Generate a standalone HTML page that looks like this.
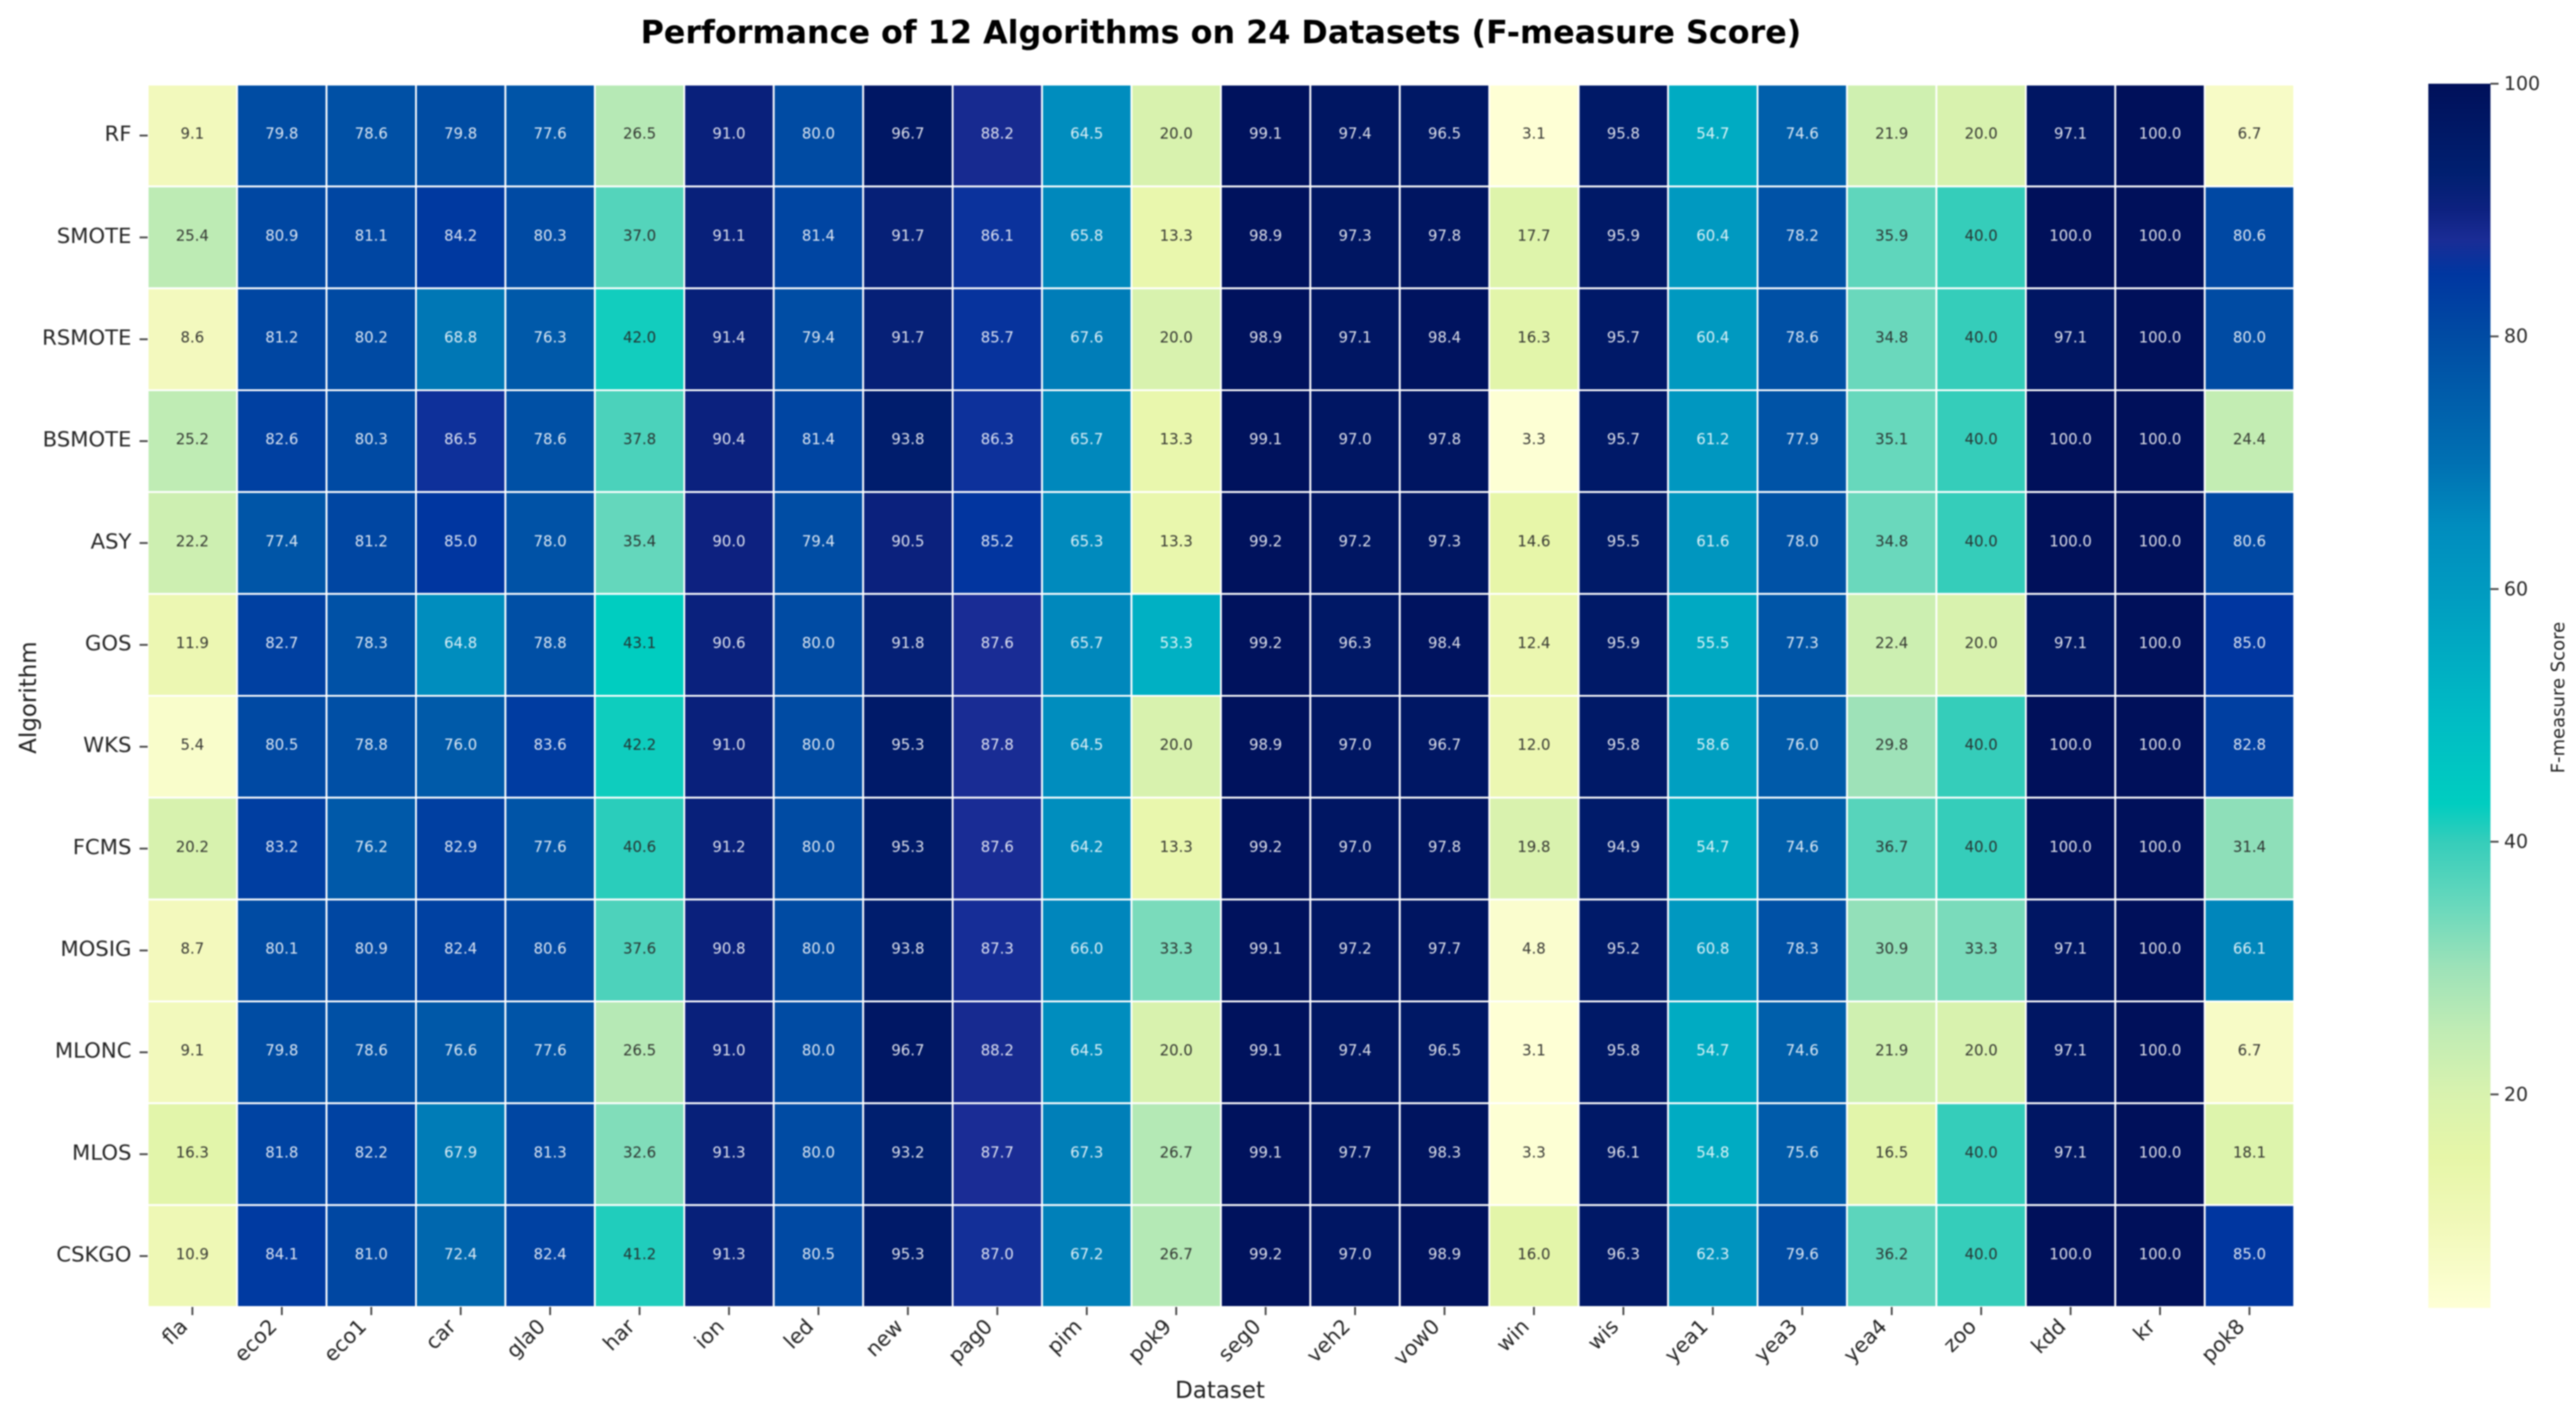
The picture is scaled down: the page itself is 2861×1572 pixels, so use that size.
<!DOCTYPE html>
<html>
<head>
<meta charset="utf-8">
<title>Performance of 12 Algorithms on 24 Datasets</title>
<style>
html,body{margin:0;padding:0;background:#fff;width:2861px;height:1572px;overflow:hidden}
svg{display:block;filter:blur(0.8px)}
text{font-family:"DejaVu Sans","Liberation Sans",sans-serif}
</style>
</head>
<body>
<svg id="chart" xmlns="http://www.w3.org/2000/svg" width="2861" height="1572" viewBox="0 0 2861 1572">
<rect width="2861" height="1572" fill="#fff"/>
<text x="1356" y="48" text-anchor="middle" font-size="35.3" font-weight="700" fill="#000">Performance of 12 Algorithms on 24 Datasets (F-measure Score)</text>
<text x="1355" y="1553" text-anchor="middle" font-size="25.5" fill="#222">Dataset</text>
<text transform="translate(40,775) rotate(-90)" text-anchor="middle" font-size="25.5" fill="#222">Algorithm</text>
<text transform="translate(2848,775) rotate(-90)" text-anchor="middle" font-size="20" fill="#222">F-measure Score</text>
<g id="cells"></g>
<g id="xticks"></g>
<g id="yticks"></g>
<g id="cbar"></g>
</svg>
<script>
const datasets = ["fla","eco2","eco1","car","gla0","har","ion","led","new","pag0","pim","pok9","seg0","veh2","vow0","win","wis","yea1","yea3","yea4","zoo","kdd","kr","pok8"];
const algorithms = ["RF","SMOTE","RSMOTE","BSMOTE","ASY","GOS","WKS","FCMS","MOSIG","MLONC","MLOS","CSKGO"];
const scoresRF = [9.1,79.8,78.6,79.8,77.6,26.5,91.0,80.0,96.7,88.2,64.5,20.0,99.1,97.4,96.5,3.1,95.8,54.7,74.6,21.9,20.0,97.1,100.0,6.7];
const scoresSMOTE = [25.4,80.9,81.1,84.2,80.3,37.0,91.1,81.4,91.7,86.1,65.8,13.3,98.9,97.3,97.8,17.7,95.9,60.4,78.2,35.9,40.0,100.0,100.0,80.6];
const scoresRSMOTE = [8.6,81.2,80.2,68.8,76.3,42.0,91.4,79.4,91.7,85.7,67.6,20.0,98.9,97.1,98.4,16.3,95.7,60.4,78.6,34.8,40.0,97.1,100.0,80.0];
const scoresBSMOTE = [25.2,82.6,80.3,86.5,78.6,37.8,90.4,81.4,93.8,86.3,65.7,13.3,99.1,97.0,97.8,3.3,95.7,61.2,77.9,35.1,40.0,100.0,100.0,24.4];
const scoresASY = [22.2,77.4,81.2,85.0,78.0,35.4,90.0,79.4,90.5,85.2,65.3,13.3,99.2,97.2,97.3,14.6,95.5,61.6,78.0,34.8,40.0,100.0,100.0,80.6];
const scoresGOS = [11.9,82.7,78.3,64.8,78.8,43.1,90.6,80.0,91.8,87.6,65.7,53.3,99.2,96.3,98.4,12.4,95.9,55.5,77.3,22.4,20.0,97.1,100.0,85.0];
const scoresWKS = [5.4,80.5,78.8,76.0,83.6,42.2,91.0,80.0,95.3,87.8,64.5,20.0,98.9,97.0,96.7,12.0,95.8,58.6,76.0,29.8,40.0,100.0,100.0,82.8];
const scoresFCMS = [20.2,83.2,76.2,82.9,77.6,40.6,91.2,80.0,95.3,87.6,64.2,13.3,99.2,97.0,97.8,19.8,94.9,54.7,74.6,36.7,40.0,100.0,100.0,31.4];
const scoresMOSIG = [8.7,80.1,80.9,82.4,80.6,37.6,90.8,80.0,93.8,87.3,66.0,33.3,99.1,97.2,97.7,4.8,95.2,60.8,78.3,30.9,33.3,97.1,100.0,66.1];
const scoresMLONC = [9.1,79.8,78.6,76.6,77.6,26.5,91.0,80.0,96.7,88.2,64.5,20.0,99.1,97.4,96.5,3.1,95.8,54.7,74.6,21.9,20.0,97.1,100.0,6.7];
const scoresMLOS = [16.3,81.8,82.2,67.9,81.3,32.6,91.3,80.0,93.2,87.7,67.3,26.7,99.1,97.7,98.3,3.3,96.1,54.8,75.6,16.5,40.0,97.1,100.0,18.1];
const scoresCSKGO = [10.9,84.1,81.0,72.4,82.4,41.2,91.3,80.5,95.3,87.0,67.2,26.7,99.2,97.0,98.9,16.0,96.3,62.3,79.6,36.2,40.0,100.0,100.0,85.0];
const scoreRows = [scoresRF,scoresSMOTE,scoresRSMOTE,scoresBSMOTE,scoresASY,scoresGOS,scoresWKS,scoresFCMS,scoresMOSIG,scoresMLONC,scoresMLOS,scoresCSKGO];
const colorbarTicks = [20,40,60,80,100];

const colorStopValues = [3,10,15,20,25,30,35,40,43,50,60,65,70,80,85,87.7,90,93,100];
const colorStopHex = ["#feffd5","#f0f8b8","#e6f6a8","#d8f2ae","#c0ecb4","#9de2b8","#68d8bc","#35cdba","#00cdc0","#00bbc4","#009ac0","#008cbe","#0070b2","#004ba3","#0036a0","#1a2c95","#0d2180","#001f70","#00105a"];

const NS = "http://www.w3.org/2000/svg";
const plotLeft = 164, plotRight = 2548, plotTop = 94, plotBottom = 1452;
const cbLeft = 2697, cbRight = 2766, cbTop = 93, cbBottom = 1453;
const allScores = scoreRows.flat();
const vMin = Math.min(...allScores), vMax = Math.max(...allScores);

function xBand(i){ return plotLeft + i * (plotRight - plotLeft) / datasets.length; }
function yBand(i){ return plotTop + i * (plotBottom - plotTop) / algorithms.length; }
function cbY(v){ return cbBottom - (v - vMin) / (vMax - vMin) * (cbBottom - cbTop); }
function hexToRgb(h){ return [1,3,5].map(function(p){ return parseInt(h.substr(p,2),16); }); }
function colorFor(v){
  if (v <= colorStopValues[0]) return colorStopHex[0];
  for (let i = 1; i < colorStopValues.length; i++) {
    if (v <= colorStopValues[i]) {
      const t = (v - colorStopValues[i-1]) / (colorStopValues[i] - colorStopValues[i-1]);
      const a = hexToRgb(colorStopHex[i-1]), b = hexToRgb(colorStopHex[i]);
      return "rgb(" + a.map(function(c,k){ return Math.round(c + (b[k]-c)*t); }).join(",") + ")";
    }
  }
  return colorStopHex[colorStopHex.length-1];
}
function mk(tag, parent, attrs, txt){
  const el = document.createElementNS(NS, tag);
  for (const k in attrs) el.setAttribute(k, attrs[k]);
  if (txt !== undefined) el.textContent = txt;
  parent.appendChild(el);
  return el;
}

const cellsG = document.getElementById("cells");
const xG = document.getElementById("xticks");
const yG = document.getElementById("yticks");
const cbG = document.getElementById("cbar");
const cw = (plotRight - plotLeft) / datasets.length;
const ch = (plotBottom - plotTop) / algorithms.length;

scoreRows.forEach(function(row, r){
  row.forEach(function(v, c){
    const rect = mk("rect", cellsG, {x:xBand(c), y:yBand(r), width:cw, height:ch, fill:colorFor(v), stroke:"#fff", "stroke-width":2});
    
    
    const label = mk("text", cellsG, {x:xBand(c)+cw/2, y:yBand(r)+ch/2+3.5, "text-anchor":"middle", "font-size":16.5, fill: v < 50 ? "#262626" : "#fff", "fill-opacity": v < 50 ? 0.9 : 0.85}, v.toFixed(1));
    
    
  });
});

datasets.forEach(function(name, i){
  const cx = xBand(i) + cw/2;
  const tick = mk("line", xG, {x1:cx, x2:cx, y1:plotBottom, y2:plotBottom+9, stroke:"#444", "stroke-width":2});
  
  
  const ax = cx - 4, ay = plotBottom + 23;
  const label = mk("text", xG, {transform:"translate("+ax+","+ay+") rotate(-45)", "text-anchor":"end", "font-size":23, fill:"#262626"}, name);
  
  
});

algorithms.forEach(function(name, i){
  const cy = yBand(i) + ch/2;
  const tick = mk("line", yG, {x1:plotLeft-9, x2:plotLeft, y1:cy, y2:cy, stroke:"#444", "stroke-width":2});
  
  
  const label = mk("text", yG, {x:plotLeft-18, y:cy+6, "text-anchor":"end", "font-size":23.5, fill:"#262626"}, name);
  
  
});

const defs = mk("defs", cbG, {});
const grad = mk("linearGradient", defs, {id:"cbGrad", x1:0, y1:1, x2:0, y2:0});
colorStopValues.forEach(function(v, i){
  const off = Math.max(0, (v - vMin) / (vMax - vMin));
  mk("stop", grad, {offset:off, "stop-color":colorStopHex[i]});
});
const cbRect = mk("rect", cbG, {x:cbLeft, y:cbTop, width:cbRight-cbLeft, height:cbBottom-cbTop, fill:"url(#cbGrad)"});


colorbarTicks.forEach(function(v){
  const y = cbY(v);
  const tick = mk("line", cbG, {x1:cbRight, x2:cbRight+9, y1:y, y2:y, stroke:"#444", "stroke-width":2});
  
  
  const label = mk("text", cbG, {x:cbRight+15, y:y+7, "font-size":21, fill:"#262626"}, String(v));
  
  
});
</script>
</body>
</html>
